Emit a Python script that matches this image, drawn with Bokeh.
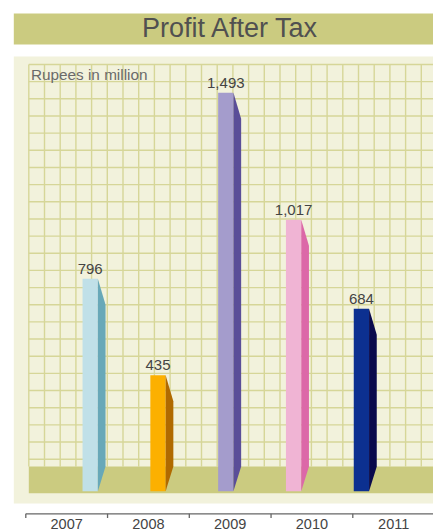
import numpy as np
from bokeh.plotting import figure
from bokeh.models import Range1d, ColumnDataSource
from bokeh.core.properties import value
from bokeh.embed import file_html
from bokeh.resources import INLINE

# ---- data ----
title_text = "Profit After Tax"
unit_text = "Rupees in million"
years = ["2007", "2008", "2009", "2010", "2011"]
profit = [796, 435, 1493, 1017, 684]
labels = ["796", "435", "1,493", "1,017", "684"]
front_colors = ["#c0e0e8", "#fcb000", "#a49ccc", "#f0b4d4", "#0c3090"]
side_colors = ["#68a8b8", "#b06a00", "#5a4e98", "#dc68a8", "#0a0a4c"]

FONT = "Liberation Sans"
W, H = 433, 532

# vertical scale: pixels per unit, baseline pixel
ppu = 0.267
base_px = 490.8
y_top = base_px / ppu
y_bot = -(H - base_px) / ppu

# horizontal scale for bars
x0_px, dx_px = 89.7, 67.8
xr = Range1d(-x0_px / dx_px, (W - x0_px) / dx_px)

p = figure(width=W, height=H, x_range=xr, y_range=Range1d(y_bot, y_top),
           output_backend="svg", toolbar_location=None, min_border=0,
           x_axis_type=None, y_axis_type=None)
p.grid.visible = False
p.outline_line_color = None
p.background_fill_color = "white"
p.border_fill_color = "white"

p.extra_x_ranges = {"px": Range1d(0, W), "yr": Range1d(-25.3 / 81.75, (W - 25.3) / 81.75)}
p.extra_y_ranges = {"px": Range1d(H, 0)}

PX = dict(x_range_name="px", y_range_name="px")

# title band
p.quad(left=13.3, right=W, top=13, bottom=44, fill_color="#cbcb80", line_color=None, **PX)
p.text(x=[230], y=[27.8], text=[title_text], text_font=value(FONT), text_font_size="27px",
       text_color="#505050", text_align="center", text_baseline="middle", **PX)

# chart panel
p.quad(left=13.3, right=W, top=56, bottom=503, fill_color="#f2f2dc", line_color=None, **PX)

# grid
gx = np.arange(28.3, W + 1, 15.7)
gy = 64 + 17.16 * np.arange(0, 24)
p.segment(x0=gx, x1=gx, y0=64, y1=466, line_color="#d6d698", line_width=1.4, **PX)
p.segment(x0=28.3, x1=W, y0=gy, y1=gy, line_color="#d6d698", line_width=1.4, **PX)

# floor
p.quad(left=28.3, right=W, top=466, bottom=492.7, fill_color="#cbcb80", line_color=None, **PX)

p.text(x=[30.5], y=[73.7], text=[unit_text], text_font=value(FONT), text_font_size="15.3px",
       text_color="#6a6a6a", text_align="left", text_baseline="middle", **PX)

# bars
fw = 15.3 / dx_px
sw = 7.7 / dx_px
d = 26 / ppu
floor_v = (base_px - 466) / ppu
idx = np.arange(len(profit))
lab_y = [v + 9.7 / ppu for v in profit]
src = ColumnDataSource(dict(x=idx, top=profit, ly=lab_y, fc=front_colors, lab=labels))
p.vbar(x="x", top="top", bottom=0, width=fw, fill_color="fc", line_color=None, source=src)

xs, ys = [], []
for i, v in enumerate(profit):
    xl = i + fw / 2
    xr_ = xl + sw
    xs.append([xl, xr_, xr_, xl])
    ys.append([v, v - d, floor_v, 0])
p.patches(xs=xs, ys=ys, fill_color=side_colors, line_color=None)

p.text(x="x", y="ly", text="lab", source=src, text_font=value(FONT),
       text_font_size="15px", text_color="#444444", text_align="center",
       text_baseline="middle")

# bottom axis
ticks = np.arange(len(years))
p.segment(x0=[0], x1=[10], y0=[513.3], y1=[513.3], line_color="#666666", line_width=1.3,
          x_range_name="yr", y_range_name="px")
p.segment(x0=ticks, x1=ticks, y0=513.3, y1=517.5, line_color="#666666", line_width=1.3,
          x_range_name="yr", y_range_name="px")
p.text(x=ticks + 0.5, y=523.3, text=years, text_font=value(FONT), text_font_size="14.5px",
       text_color="#444444", text_align="center", text_baseline="middle",
       x_range_name="yr", y_range_name="px")

open("out.html", "w").write(file_html(p, INLINE))
